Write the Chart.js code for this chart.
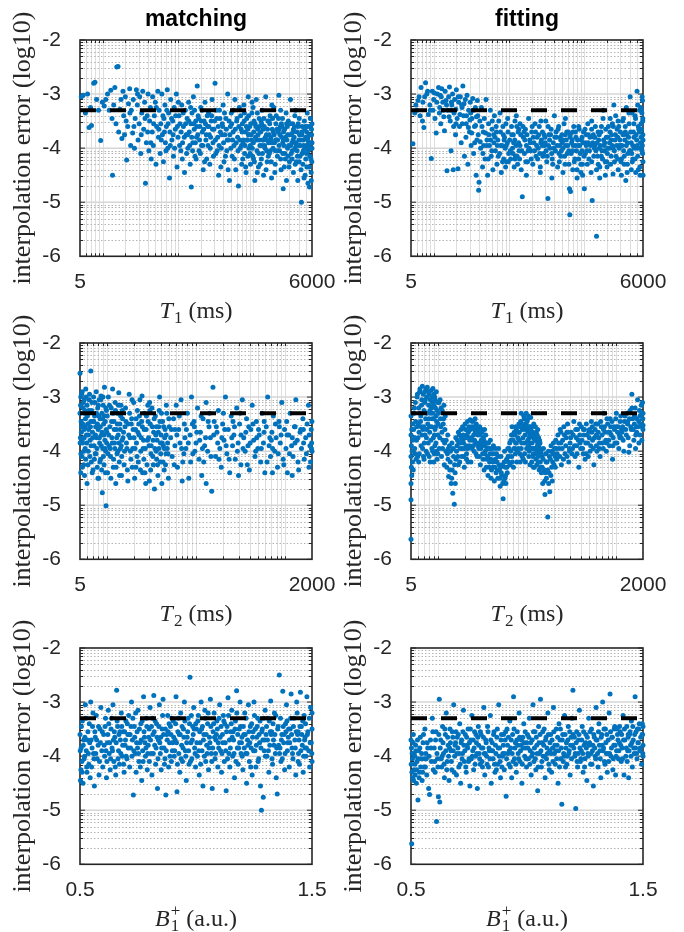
<!DOCTYPE html>
<html>
<head>
<meta charset="utf-8">
<script src="https://cdn.jsdelivr.net/npm/chart.js@4.4.0/dist/chart.umd.min.js"></script>
<style>
html, body { margin: 0; padding: 0; background: #fff; overflow: hidden; }
#wrap { position: relative; width: 684px; height: 932px; }
#wrap canvas { position: absolute; }
</style>
</head>
<body>
<div id="wrap">
  <canvas id="c1" width="342" height="330" style="left:0;top:0"></canvas>
  <canvas id="c2" width="342" height="330" style="left:331px;top:0"></canvas>
  <canvas id="c3" width="342" height="330" style="left:0;top:303px"></canvas>
  <canvas id="c4" width="342" height="330" style="left:331px;top:303px"></canvas>
  <canvas id="c5" width="342" height="330" style="left:0;top:608px"></canvas>
  <canvas id="c6" width="342" height="330" style="left:331px;top:608px"></canvas>
</div>
<script>
//----------------------------- DATOS -----------------------------
// error de interpolacion (log10) contra T1, T2 y B1+ : pares [x, y]
const errThreshold = -3.3;

const yTicks = [-6, -5, -4, -3, -2];
const yTickLabels = ['-6', '-5', '-4', '-3', '-2'];
const t1Ticks = [5, 6000];
const t1TickLabels = ['5', '6000'];
const t2Ticks = [5, 2000];
const t2TickLabels = ['5', '2000'];
const b1Ticks = [0.5, 1.5];
const b1TickLabels = ['0.5', '1.5'];
const columnTitles = ['matching', 'fitting'];

const t1Matching = [
[5.2,-3.05],[5.5,-3.02],[5.9,-3.35],[6.3,-3.0],[6.6,-3.62],[7.1,-3.58],[7.6,-2.8],[7.9,-2.78],[8.3,-3.1],[8.8,-3.3],[9.4,-3.86],[9.9,-3.15],[10.5,-3.22],[11,-3.1],[11.6,-3.0],[12.2,-3.3],[12.8,-2.93],[6.9,-3.25],
[13.3,-3.45],[13.5,-4.5],[14,-3.2],[14.5,-2.88],[15,-3.55],[15.4,-2.5],[16,-2.49],[16.3,-3.7],[17,-3.28],[17.5,-3.1],[18,-3.82],[18.6,-2.95],[19,-3.4],[19.5,-3.75],[20,-3.05],[20.8,-4.22],[21.5,-3.6],[22,-3.18],[22.8,-2.9],[23.5,-3.95],[24,-3.3],[25,-3.72],[25.5,-3.1],[26.4,-4.0],[27,-3.45],[28,-2.92],[28.8,-3.2],[29.5,-3.85],[30.5,-3.55],[31,-3.05],[32,-4.1],[33,-3.35],[34,-2.95],[35,-3.65],[36,-3.15],[37,-4.65],[38,-3.9],[39,-3.4],[40,-3.0],[41,-4.05],
[42,-3.5],[43,-3.25],[44,-4.2],[45.5,-3.7],[46,-3.05],[47,-3.95],[48.5,-3.4],[50,-3.15],[51,-4.3],[52,-3.6],[54,-2.95],[55,-3.8],[56,-3.3],[58,-4.1],[59,-3.55],[61,-3.0],[62,-3.75],[64,-4.25],[65,-3.45],[67,-3.2],[68,-3.9],[70,-3.6],[72,-2.92],[73,-4.0],[75,-3.35],[77,-4.55],[78,-3.7],[80,-3.1],[83,-3.85],[85,-3.5],[87,-4.15],[89,-3.25],[92,-3.65],[95,-3.0],[97,-4.35],[100,-3.8],[103,-3.4],[106,-3.55],[109,-4.05],[112,-3.2],[115,-3.9],[118,-3.6],[122,-4.45],[125,-3.3],[128,-3.75],
[132,-3.45],[135,-4.0],[138,-3.15],[141,-3.7],[145,-4.3],[148,-3.55],[150,-4.72],[153,-3.35],[157,-3.9],[160,-3.05],[164,-3.65],[168,-4.15],[172,-3.5],[176,-3.8],[180,-2.85],[185,-3.4],[190,-4.05],[195,-3.6],[200,-3.25],[205,-3.95],[210,-3.7],[216,-4.4],[222,-3.5],[228,-3.15],[234,-3.85],[240,-4.2],[247,-3.6],[254,-3.35],[260,-3.75],[268,-4.0],[275,-3.5],[283,-3.1],[291,-3.9],[300,-3.65],[310,-2.8],[318,-4.1],[327,-3.45],[336,-3.8],[346,-4.5],[355,-3.3],[365,-3.7],[375,-4.0],[386,-3.55],[397,-3.2],[408,-4.25],[420,-3.75],[432,-3.45],[444,-4.05],[456,-3.0],[469,-3.85],[482,-4.6],[495,-3.6],[509,-3.35],[523,-4.15],[538,-3.7],[553,-3.95],[568,-3.1],[584,-4.4],[600,-3.5],[617,-3.8],[634,-4.7],[651,-3.25],[669,-4.0],[688,-3.65],[700,-4.3],
[715,-3.55],[730,-3.9],[748,-3.2],[765,-4.1],[782,-3.7],[800,-4.45],[818,-3.45],[836,-3.85],[855,-3.05],[875,-4.0],[895,-3.6],[915,-4.3],[935,-3.75],[956,-3.35],[978,-4.15],[1000,-3.9],[1020,-3.5],[1045,-4.6],[1068,-3.8],[1092,-3.1],[1116,-4.05],[1141,-3.65],[1167,-4.35],[1193,-3.45],[1220,-3.95],[1248,-3.7],[1276,-4.2],[1305,-3.3],[1334,-3.85],[1364,-4.5],[1395,-3.6],[1426,-4.0],[1458,-3.05],[1491,-3.75],[1525,-4.25],[1559,-3.5],[1594,-3.9],[1630,-4.1],[1667,-3.4],[1704,-3.8],[1743,-4.55],[1782,-3.65],[1822,-4.0],[1863,-3.25],[1905,-3.9],[1948,-4.3],[1992,-3.55],[2037,-3.85],[2083,-4.15],[2130,-3.7],[2178,-3.02],[2227,-4.05],[2277,-3.6],[2328,-4.4],[2381,-3.8],[2434,-3.45],[2489,-4.75],[2545,-3.95],[2603,-3.65],[2661,-4.2],[2721,-3.35],[2783,-3.85],[2845,-4.0],[2909,-3.5],[2975,-4.35],[3042,-3.75],[3110,-3.1],[3180,-4.1],[3252,-3.9],[3325,-3.55],[3400,-4.45],[3477,-3.8],[3555,-4.0],[3635,-3.3],[3717,-4.25],[3800,-3.7],[3886,-4.6],[3974,-3.95],[4063,-3.45],[4155,-4.15],[4248,-3.85],[4344,-5.0],[4442,-3.6],[4542,-4.3],[4644,-3.95],[4749,-3.5],[4856,-4.5],[4965,-3.8],[5077,-4.1],[5191,-3.35],[5308,-4.65],[5428,-3.9],[5550,-4.72],[5675,-3.6],[5803,-4.2],[5930,-3.75],[5990,-4.0],
[760,-3.35],[842,-3.65],[910,-3.95],[990,-3.25],[1080,-3.6],[1180,-4.1],[1290,-3.55],[1410,-3.95],[1540,-3.65],[1680,-4.05],[1840,-3.7],[2010,-3.4],[2200,-3.95],[2400,-3.6],[2620,-4.1],[2860,-3.75],[3120,-3.95],[3400,-3.65],[3700,-3.95],[4040,-4.25],[4400,-3.75],[4800,-4.0],[5240,-3.85],[5700,-3.45],[1130,-3.35],[1620,-3.5],[2300,-3.3],[3260,-4.2],[4600,-4.05],[5500,-4.35],[960,-3.15],[1360,-3.85],[1960,-4.05],[2760,-3.55],[3900,-3.6],[5100,-3.7],[5850,-4.45],[6000,-3.9],[1760,-3.2],[2500,-3.85],[3550,-3.4],[4950,-4.2],
[20.5,-3.5],[23,-3.35],[26,-3.6],[29,-3.0],[32.5,-3.75],[36.5,-3.45],[39.5,-3.7],[43.5,-3.9],[47.5,-3.55],[51.5,-3.25],[55.5,-3.65],[60,-3.85],[63,-3.4],[66,-3.7],[69,-4.05],[71,-3.3],[74,-3.55],[79,-3.95],[82,-3.45],[86,-3.75],[90,-4.0],[93,-3.4],[98,-3.6],[101,-3.15],[105,-3.95],[110,-3.7],[114,-4.2],[117,-3.35],[121,-3.8],[126,-3.55],[130,-4.1],[134,-3.75],[139,-3.5],[143,-3.95],[147,-3.25],[152,-3.8],[156,-4.05],[162,-3.55],[166,-3.3],[170,-3.9],[174,-4.2],[178,-3.6],[183,-3.75],[188,-3.45],[193,-3.85],[198,-4.1],[203,-3.5],[208,-3.3],[213,-3.95],[219,-3.65],[225,-4.25],[231,-3.55],[237,-3.75],[244,-3.4],[250,-3.95],[257,-3.6],[264,-4.3],[271,-3.8],[279,-3.4],[287,-3.65],[295,-4.15],[305,-3.5],[314,-3.85],[322,-3.3],[331,-4.05],[341,-3.6],[350,-3.95],[360,-3.45],[370,-4.35],[380,-3.75],[391,-3.6],[402,-3.9],[414,-3.35],[426,-4.15],[438,-3.65],[450,-3.85],[462,-4.4],[475,-3.5],[488,-3.75],[502,-4.0],[516,-3.55],[530,-3.85],[545,-3.3],[560,-4.2],[576,-3.65],[592,-3.9],[608,-3.45],[625,-4.05],[642,-3.6],[660,-3.85],[678,-3.4],[695,-3.95],[708,-3.7],[722,-4.2],[740,-3.85],[756,-3.5],[774,-3.95],[791,-4.35],[808,-3.6],[827,-3.85],[846,-4.15],[864,-3.4],[885,-3.75],[905,-4.1],[925,-3.55],[946,-3.85],[967,-4.0],[1010,-3.7],[1032,-4.25],[1056,-3.55],[1104,-3.85],[1128,-4.45],[1154,-3.75],[1206,-3.6],[1234,-4.3],[1262,-3.5],[1320,-4.1],[1349,-3.65],[1380,-3.45],[1442,-3.8],[1474,-4.4],[1508,-3.85],[1576,-4.15],[1612,-3.75],[1648,-3.55],[1722,-4.25],[1762,-3.9],[1802,-3.45],[1884,-3.75],[1926,-4.45],[1970,-3.85],[2060,-3.65],[2106,-4.05],[2154,-3.45],[2252,-3.75],[2302,-4.2],[2354,-3.55],[2460,-4.1],[2516,-3.7],[2574,-4.35],[2690,-3.8],[2750,-4.6],[2814,-3.6],[2940,-3.95],[3008,-4.25],[3076,-3.55],[3216,-3.75],[3288,-4.05],[3362,-3.85],[3514,-3.6],[3594,-4.3],[3676,-3.9],[3842,-4.15],[3930,-3.55],[4018,-3.85],[4200,-3.95],[4296,-4.4],[4392,-3.7],[4592,-3.85],[4696,-4.55],[4802,-3.65],[5020,-3.95],[5134,-4.35],[5250,-3.6],[5368,-4.05],[5490,-3.75],[5612,-4.15],[5740,-3.9],[5866,-4.6],[5960,-4.25],[5995,-3.55],[1005,-4.2],[1500,-4.05],[2100,-3.85],[2900,-4.15],[3800,-4.05],[4900,-3.6],[5400,-3.95],[5900,-3.65],[1300,-3.95],[1700,-3.85],[2450,-3.9],[3350,-3.7],[4450,-4.1],[5600,-4.0],[860,-3.75],[1200,-3.85],[2200,-3.65],[3000,-3.55],[4100,-3.75],[5300,-3.8]
];

const t1Fitting = [
[5.3,-3.92],[5.6,-3.35],[6.0,-3.3],[6.4,-3.05],[6.8,-2.88],[7.1,-3.5],[7.4,-3.62],[7.8,-2.79],[8.1,-3.0],[8.5,-3.38],[8.9,-3.2],[9.3,-4.19],[9.6,-2.95],[10,-3.1],[10.4,-3.45],[10.8,-3.72],[11.2,-3.0],[11.6,-2.88],[12,-3.25],[12.4,-3.55],[12.8,-2.9],[13.2,-3.15],[13.6,-3.42],[7.6,-3.05],[9.0,-3.3],[11.9,-3.35],[10.2,-2.98],[6.2,-3.12],[13.9,-3.68],[12.6,-3.05],
[14.2,-2.95],[14.6,-3.12],[15,-4.42],[15.3,-3.3],[15.8,-3.05],[16.2,-2.87],[16.6,-3.5],[17,-4.05],[17.4,-3.2],[17.8,-3.0],[18.2,-4.4],[18.6,-3.35],[19,-3.1],[19.5,-3.75],[20,-2.92],[20.5,-3.45],[21,-4.38],[21.5,-3.15],[22,-3.6],[22.6,-3.05],[23.2,-3.9],[23.8,-3.25],[24.4,-2.85],[25,-3.4],[25.6,-4.15],[26.3,-3.1],[27,-3.55],[27.7,-3.02],[28.4,-4.3],[29.1,-3.3],[29.9,-3.7],[30.6,-3.15],[31.4,-3.95],[32.2,-3.45],[33,-3.08],[33.9,-4.1],[34.8,-3.6],[35.7,-3.25],[36.6,-4.5],[37.5,-3.85],[38.5,-3.4],[39.5,-4.78],[16.9,-3.3],[19.8,-3.55],[23.5,-3.2],[26.8,-3.8],[31,-3.35],[35,-3.9],[38,-3.12],[40,-4.63],
[41,-3.5],[42,-4.0],[43,-3.25],[44.5,-4.35],[45.5,-3.7],[47,-3.45],[48,-4.2],[49.5,-3.1],[51,-3.85],[52,-4.5],[53.5,-3.55],[55,-3.95],[56.5,-3.3],[58,-4.15],[59.5,-3.65],[61,-4.4],[62.5,-3.75],[64,-3.4],[66,-4.05],[67.5,-3.6],[69,-4.3],[71,-3.85],[73,-3.5],[75,-4.1],[77,-3.7],[79,-4.45],[81,-3.95],[83,-3.6],[85,-4.2],[87,-3.8],[89,-4.0],[91,-3.55],[93,-4.25],[95,-3.9],[97,-3.7],[99,-4.1],[54,-3.75],[60,-3.5],[70,-3.95],[76,-3.35],[84,-3.75],[90,-4.35],[96,-3.45],[46,-3.95],[65,-3.8],
[102,-3.85],[105,-4.2],[108,-3.6],[111,-4.0],[114,-3.75],[117,-4.35],[120,-3.5],[124,-3.95],[128,-4.15],[132,-3.7],[136,-4.05],[140,-3.55],[145,-4.4],[150,-4.9],[155,-3.8],[160,-4.1],[165,-3.65],[170,-3.95],[176,-4.25],[182,-3.45],[188,-3.85],[194,-4.05],[200,-3.7],[207,-4.3],[214,-3.9],[221,-3.55],[228,-4.15],[236,-3.8],[244,-4.0],[252,-3.6],[260,-4.45],[269,-3.85],[278,-3.7],[287,-4.1],[297,-3.95],[307,-3.5],[317,-4.25],[328,-4.93],[339,-3.75],[350,-4.0],[362,-3.65],[374,-4.2],[387,-3.9],[400,-3.4],[413,-4.05],[427,-3.8],[441,-4.35],[456,-3.6],[471,-3.95],[487,-4.15],[503,-3.75],[520,-4.0],[537,-3.55],[555,-4.3],[574,-3.85],[593,-4.1],[613,-3.7],[634,-4.75],[640,-5.23],[655,-4.8],[677,-3.9],[700,-4.05],[723,-3.6],[748,-4.2],[773,-3.8],[799,-4.4],[826,-3.95],[853,-3.65],[882,-4.1],[912,-3.85],[943,-4.3],[974,-3.7],[1000,-4.75],[1040,-3.9],[1075,-4.05],[1111,-3.55],[1149,-4.2],[1187,-3.8],[1227,-4.45],[1270,-4.97],[1312,-3.75],[1356,-4.0],[1400,-3.6],[1450,-5.63],[1500,-4.15],[1550,-3.85],[1602,-4.35],[1656,-3.7],[1712,-4.05],[1770,-3.45],[1829,-3.95],[1891,-4.25],[1955,-3.8],[2020,-4.1],[2088,-3.6],[2159,-3.9],[2231,-4.3],[2306,-3.75],[2384,-4.0],[2464,-3.2],[2547,-3.85],[2633,-4.15],[2722,-3.65],[2813,-4.4],[2908,-3.95],[3006,-3.7],[3107,-4.2],[3212,-3.5],[3320,-4.05],[3432,-3.85],[3547,-4.6],[3667,-3.75],[3790,-4.1],[3918,-3.55],[4050,-3.05],[4186,-3.9],[4327,-4.25],[4473,-3.7],[4623,-4.0],[4779,-3.45],[4940,-3.85],[5000,-2.95],[5106,-4.15],[5278,-3.65],[5456,-4.35],[5639,-3.8],[5829,-4.05],[5950,-3.5],[6000,-4.5],[5900,-3.12],
[115,-3.9],[130,-4.3],[158,-3.7],[185,-4.0],[210,-3.8],[240,-4.2],[275,-3.95],[310,-4.05],[345,-3.85],[380,-4.3],[420,-3.7],[460,-4.1],[510,-3.9],[560,-3.75],[620,-4.05],[690,-3.85],[760,-3.95],[840,-4.2],[930,-3.8],[1030,-4.1],[1130,-3.9],[1250,-4.25],[1380,-3.95],[1520,-3.7],[1680,-4.15],[1860,-3.9],[2050,-4.0],[2270,-3.85],[2510,-4.25],[2770,-3.8],[3060,-3.95],[3380,-4.3],[3730,-3.9],[4120,-4.05],[4550,-3.8],[5030,-4.0],[5560,-3.9],[135,-3.65],[225,-3.7],[330,-3.6],[485,-3.85],[705,-3.7],[1060,-3.75],[1580,-4.0],[2350,-3.55],[3500,-3.7],[5200,-3.6],[1780,-3.3],[2600,-3.4],[3900,-3.35],[5700,-3.3],[170,-4.5],[370,-4.55],[900,-4.45],[1900,-4.5],[4200,-4.4],[800,-4.55],[2400,-4.48],[125,-3.4],[265,-3.5],[560,-3.45],
[5.8,-3.2],[6.6,-3.4],[7.2,-3.15],[8.3,-2.95],[9.8,-3.3],[11,-3.15],[12.2,-3.02],[13.4,-3.3],[14.8,-3.2],[16,-3.42],[17.2,-3.15],[18.4,-3.6],[19.7,-3.28],[21.2,-3.05],[22.3,-3.38],[24,-3.55],[25.3,-3.18],[27.3,-3.4],[28.9,-3.62],[30.2,-3.48],[32,-3.72],[34,-3.3],[36,-3.58],[37,-3.42],[39,-3.75],[41.5,-3.88],[43.8,-3.6],[45,-4.1],[48.8,-3.72],[50.5,-3.95],[53,-4.2],[57,-3.85],[59,-4.05],[63,-3.9],[68,-3.7],[72,-4.15],[78,-3.95],[82,-4.25],[86,-3.85],[92,-3.95],[98,-4.25],
[104,-4.05],[109,-3.75],[113,-4.1],[119,-3.85],[122,-4.15],[127,-3.6],[134,-3.9],[138,-4.2],[143,-3.75],[148,-4.05],[153,-3.6],[162,-3.85],[167,-4.25],[173,-3.75],[179,-4.05],[191,-3.9],[197,-4.2],[203,-3.6],[218,-4.05],[232,-3.95],[248,-3.75],[256,-4.1],[264,-3.9],[282,-4.15],[292,-3.75],[302,-3.9],[322,-4.15],[334,-3.95],[356,-3.75],[368,-4.1],[392,-4.0],[406,-3.8],[434,-3.95],[448,-3.65],[465,-4.25],[479,-3.8],[495,-4.05],[528,-3.85],[546,-4.15],[565,-3.95],[584,-3.7],[603,-3.95],[624,-4.3],[645,-3.8],[666,-4.1],[712,-3.95],[735,-4.25],[761,-3.7],[786,-4.05],[812,-3.85],[839,-3.6],[868,-3.95],[897,-4.3],[927,-4.05],[958,-3.9],[990,-4.15],[1020,-3.65],[1058,-3.95],[1093,-4.3],[1130,-3.75],[1168,-4.05],[1207,-3.95],[1248,-3.65],[1291,-3.9],[1334,-4.15],[1378,-3.8],[1425,-4.05],[1475,-3.9],[1525,-4.3],[1576,-3.75],[1629,-3.95],[1684,-3.6],[1741,-4.2],[1800,-3.85],[1860,-4.05],[1922,-3.65],[1987,-4.25],[2054,-3.8],[2124,-4.0],[2195,-3.7],[2268,-4.15],[2345,-3.95],[2424,-3.6],[2505,-4.05],[2590,-3.75],[2677,-3.95],[2767,-4.2],[2860,-3.6],[2957,-3.85],[3056,-4.25],[3159,-3.95],[3266,-3.75],[3376,-4.15],[3489,-3.6],[3607,-3.95],[3728,-4.3],[3854,-3.8],[3984,-4.05],[4118,-3.7],[4256,-4.1],[4400,-3.95],[4548,-3.55],[4700,-4.2],[4860,-3.75],[5024,-3.95],[5192,-4.4],[5367,-3.7],[5548,-4.0],[5734,-3.65],[5880,-3.95],[5975,-3.75],[5990,-4.25],[6000,-3.85],[5960,-3.45],[5800,-3.35],[5600,-3.25],[5400,-3.3],[4700,-3.4],[4300,-3.35],[3300,-3.45],[2800,-3.5],[2200,-3.45],[1250,-3.5],[5100,-3.2],[5850,-3.05],[3600,-3.25],[4800,-4.45],[3100,-4.5],[2000,-4.35],[1450,-4.4],[950,-4.5],[520,-4.45],[260,-4.35],[120,-4.2],[700,-4.4],[1600,-4.55],[3700,-4.45],[5500,-4.5],[140,-3.95],[300,-3.8],[650,-3.75],[1350,-3.8],[2900,-4.0],[4400,-4.2],[5650,-3.55],[5920,-4.1]
];

const t2Matching = [
[5.0,-2.56],[5.0,-3.3],[5.05,-3.75],[5.1,-4.4],[5.1,-3.0],[5.2,-3.55],[5.25,-4.1],[5.3,-2.9],[5.35,-3.85],[5.4,-3.2],[5.5,-4.25],[5.55,-3.6],[5.6,-3.05],[5.7,-3.95],[5.75,-3.4],[5.8,-2.85],[5.9,-3.7],[6.0,-4.6],[6.0,-3.15],[6.1,-3.5],[6.2,-4.0],[6.3,-3.25],[6.4,-2.95],[6.5,-3.8],[6.6,-2.52],[6.6,-3.45],[6.7,-4.2],[6.8,-3.1],[6.9,-3.65],[7.0,-4.35],[7.1,-3.0],[7.2,-3.9],[7.3,-3.35],[7.4,-4.05],[7.5,-3.55],[7.6,-2.9],[7.7,-3.75],[7.8,-4.3],[7.9,-3.2],[8.0,-3.6],[8.1,-4.5],[8.2,-3.05],[8.3,-3.85],[8.4,-3.4],[8.5,-4.15],[8.6,-2.98],[8.7,-3.7],[8.8,-3.3],[8.9,-4.77],[9.0,-3.95],[9.1,-3.15],[9.2,-3.5],[9.3,-4.25],[9.4,-2.82],[9.5,-3.8],[9.6,-3.45],[9.7,-4.0],[9.8,-5.01],[9.9,-3.25],[10,-3.65],[10.2,-4.4],[10.4,-3.0],[10.6,-3.9],[10.8,-3.55],[11,-4.1],[11.2,-3.2],[11.4,-3.75],[11.6,-2.85],[11.8,-4.3],[12,-3.45],[12.2,-3.85],[12.4,-3.1],[12.6,-4.6],[12.8,-3.6],[13,-4.05],[13.2,-3.3],[13.4,-3.7],[13.6,-2.92],[13.8,-4.2],[14,-3.5],[14.2,-3.95],[14.4,-3.15],[14.6,-4.45],[14.8,-3.8],[15,-3.4],[5.15,-3.45],[5.65,-3.3],[6.25,-3.6],[7.15,-3.45],[8.15,-3.35],
[15.4,-3.65],[15.8,-4.0],[16.2,-3.2],[16.6,-3.85],[17,-4.35],[17.4,-3.5],[17.8,-2.95],[18.2,-3.75],[18.6,-4.15],[19,-3.4],[19.5,-3.95],[20,-3.1],[20.5,-4.5],[21,-3.6],[21.5,-3.85],[22,-3.25],[22.5,-4.2],[23,-3.7],[23.5,-3.05],[24,-4.0],[24.6,-3.45],[25.2,-4.4],[25.8,-3.8],[26.4,-3.3],[27,-3.95],[27.6,-3.6],[28.2,-4.25],[28.8,-3.15],[29.4,-3.75],[30,-4.55],[30.7,-3.5],[31.4,-3.9],[32.1,-3.2],[32.8,-4.1],[33.5,-3.65],[34.2,-4.7],[35,-3.35],[35.8,-4.0],[36.6,-3.8],[37.4,-4.45],[38.2,-3.55],[39,-3.0],[39.8,-4.2],[40.6,-3.7],[41.4,-4.6],[42.2,-3.45],[43,-3.9],[44,-4.35],[45,-3.6],[46,-4.05],[47,-3.3],[48,-3.85],[49,-4.5],[50,-3.55],[16,-3.55],[18,-3.3],[20.2,-3.75],[22.8,-3.5],[26,-4.15],[29,-3.45],[33,-3.8],[36,-3.55],[40,-3.85],[44.5,-3.75],[48.5,-4.05],[17.2,-4.55],[21.2,-4.3],[27.3,-4.6],[31,-4.35],[37,-4.25],[19.2,-3.05],[24.8,-2.98],[30.2,-3.1],[38.6,-3.25],[46.5,-3.15],
[52,-3.75],[54,-4.1],[56,-3.4],[58,-3.9],[60,-3.15],[62,-4.3],[64,-3.6],[66,-3.85],[68,-3.05],[71,-4.2],[74,-3.5],[77,-3.95],[80,-3.3],[83,-4.5],[86,-3.7],[89,-3.0],[92,-4.05],[96,-3.55],[100,-3.85],[104,-3.2],[108,-4.15],[112,-3.65],[116,-4.45],[120,-3.4],[125,-3.9],[130,-3.1],[135,-4.0],[140,-3.55],[145,-3.75],[150,-4.74],[155,-2.82],[160,-3.45],[166,-4.1],[172,-3.65],[178,-3.25],[185,-3.95],[192,-4.3],[199,-3.5],[206,-3.8],[214,-3.0],[222,-4.05],[230,-3.6],[239,-4.4],[248,-3.35],[257,-3.9],[266,-3.7],[276,-4.15],[286,-3.2],[297,-3.85],[308,-3.5],[319,-4.25],[331,-3.05],[343,-3.75],[356,-4.0],[369,-3.4],[383,-3.9],[397,-4.35],[412,-3.6],[427,-3.15],[443,-3.8],[459,-4.1],[476,-3.45],[494,-3.95],[512,-3.7],[531,-4.2],[551,-3.3],[571,-3.85],[592,-4.4],[614,-3.55],[637,-3.0],[660,-3.9],[685,-4.1],[710,-3.65],[736,-3.35],[764,-4.0],[792,-3.75],[821,-4.3],[852,-3.45],[883,-3.85],[916,-3.1],[950,-4.15],[985,-3.6],[1021,-3.95],[1059,-4.4],[1098,-3.7],[1139,-3.3],[1181,-3.9],[1225,-4.1],[1270,-3.55],[1317,-3.05],[1366,-3.8],[1416,-4.35],[1469,-3.65],[1523,-3.95],[1580,-3.4],[1638,-4.15],[1699,-3.75],[1762,-3.5],[1827,-3.15],[1895,-3.9],[1960,-3.6],[2000,-4.0],[1980,-3.85],
[58,-3.6],[75,-3.75],[95,-3.45],[118,-3.95],[142,-3.3],[175,-3.85],[210,-3.6],[260,-3.45],[320,-3.7],[390,-3.55],[480,-3.75],[580,-3.65],[700,-3.8],[860,-3.55],[1050,-3.7],[1290,-3.85],[1600,-3.6],[70,-4.55],[130,-4.6],[300,-4.45],[720,-4.4],[1200,-4.45],[1850,-4.3],
[5.02,-3.85],[5.08,-3.15],[5.12,-4.05],[5.18,-3.65],[5.22,-2.95],[5.28,-3.8],[5.32,-4.3],[5.38,-3.5],[5.45,-3.1],[5.52,-4.0],[5.58,-3.75],[5.62,-4.45],[5.68,-3.25],[5.72,-3.55],[5.78,-4.15],[5.85,-3.0],[5.95,-3.85],[6.05,-3.35],[6.15,-4.25],[6.22,-3.7],[6.35,-3.05],[6.45,-4.1],[6.55,-3.55],[6.65,-3.9],[6.75,-3.25],[6.85,-4.4],[6.95,-3.75],[7.05,-3.45],[7.25,-4.15],[7.35,-3.1],[7.45,-3.7],[7.55,-4.05],[7.65,-3.3],[7.75,-3.95],[7.85,-3.5],[7.95,-4.5],[8.05,-3.15],[8.25,-3.75],[8.35,-4.2],[8.45,-3.55],[8.55,-3.05],[8.65,-3.9],[8.75,-4.35],[8.85,-3.65],[8.95,-3.4],[9.05,-3.0],[9.15,-4.1],[9.25,-3.7],[9.35,-3.35],[9.55,-3.95],[9.65,-4.4],[9.75,-3.2],[9.85,-3.6],[9.95,-3.85],[10.1,-3.35],[10.3,-4.05],[10.5,-3.7],[10.7,-3.15],[10.9,-3.95],[11.1,-4.5],[11.3,-3.45],[11.5,-3.85],[11.7,-3.3],[11.9,-4.15],[12.1,-3.6],[12.3,-3.95],[12.5,-3.25],[12.7,-4.3],[12.9,-3.75],[13.1,-3.5],[13.3,-4.0],[13.5,-3.15],[13.7,-3.85],[13.9,-4.45],[14.1,-3.6],[14.3,-3.35],[14.5,-3.9],[14.7,-4.1],[14.9,-3.25],[15.2,-3.75],[15.6,-4.25],[16.4,-3.45],[16.8,-3.95],[17.6,-3.7],[18.4,-4.0],[18.8,-3.5],[19.3,-4.3],[19.7,-3.6],[20.7,-3.95],[21.3,-3.4],[21.8,-4.1],[22.3,-3.65],[23.2,-3.35],[23.8,-4.35],[24.3,-3.75],[25,-3.55],[25.5,-3.95],[26.2,-3.6],[26.7,-4.4],[27.8,-3.35],[28.5,-3.8],[29.7,-3.9],[30.4,-3.25],[31.2,-4.05],[32.4,-3.55],[33.2,-4.25],[34,-3.4],[34.6,-3.95],[35.4,-3.7],[36.2,-4.15],[37.8,-3.65],[38.4,-3.95],[39.4,-3.45],[40.2,-4.05],[41,-3.3],[41.8,-3.85],[42.6,-4.2],[43.5,-3.55],[44.2,-3.95],[45.5,-4.25],[46.3,-3.7],[47.5,-3.95],[49.5,-3.4],
[53,-3.6],[57,-4.25],[61,-3.7],[65,-3.35],[69,-3.95],[73,-4.05],[78,-3.6],[82,-3.85],[87,-4.2],[91,-3.5],[97,-4.0],[102,-3.65],[110,-3.8],[114,-3.35],[122,-4.2],[128,-3.75],[137,-3.45],[147,-4.1],[158,-3.7],[169,-3.55],[181,-4.15],[195,-3.75],[203,-3.3],[218,-3.9],[235,-4.15],[252,-3.75],[270,-3.55],[291,-4.0],[313,-3.3],[337,-3.95],[362,-3.65],[376,-4.25],[405,-3.85],[435,-3.5],[467,-4.0],[503,-3.6],[540,-3.95],[582,-3.45],[625,-4.2],[672,-3.75],[723,-3.95],[778,-3.5],[836,-4.05],[899,-3.7],[967,-4.25],[1040,-3.45],[1118,-4.05],[1202,-3.75],[1293,-3.55],[1391,-4.2],[1495,-3.6],[1609,-3.85],[1730,-4.05],[1860,-3.7],[1930,-4.2],[1995,-3.45],[1970,-3.95]
];

const t2Fitting = [
[5.0,-3.35],[5.0,-3.7],[5.0,-4.1],[5.0,-4.6],[5.0,-4.9],[5.0,-5.63],[5.05,-3.9],[5.05,-4.3],[5.1,-3.6],[5.1,-4.45],[5.15,-4.0],[5.2,-3.8],[5.2,-4.2],[5.25,-3.5],[5.3,-4.35],
[5.4,-3.3],[5.5,-3.95],[5.6,-3.1],[5.7,-4.15],[5.8,-3.55],[5.9,-2.95],[6.0,-3.75],[6.1,-3.2],[6.2,-4.05],[6.3,-2.85],[6.4,-3.45],[6.5,-3.9],[6.6,-3.05],[6.7,-2.8],[6.8,-3.6],[6.9,-4.1],[7.0,-3.25],[7.1,-2.9],[7.2,-3.7],[7.3,-3.4],[7.4,-4.0],[7.5,-3.0],[7.6,-2.82],[7.7,-3.5],[7.8,-3.85],[7.9,-3.15],[8.0,-2.95],[8.1,-3.65],[8.2,-4.2],[8.3,-3.3],[8.4,-2.88],[8.5,-3.55],[8.6,-3.95],[8.7,-3.1],[8.8,-2.84],[8.9,-3.75],[9.0,-3.4],[9.1,-4.05],[9.2,-3.0],[9.3,-3.6],[9.4,-3.2],[9.5,-3.85],[9.6,-2.9],[9.7,-3.45],[9.8,-4.15],[9.9,-3.1],[10,-3.7],[10.2,-3.3],[10.4,-3.95],[10.6,-3.05],[10.8,-3.55],[11,-4.1],[11.2,-3.25],[11.4,-3.8],[11.6,-3.4],[11.8,-4.25],[12,-3.6],[6.05,-3.5],[6.45,-3.35],[6.95,-3.55],[7.45,-3.75],[7.95,-3.4],[8.45,-3.2],[8.95,-3.15],[9.45,-3.55],[5.75,-3.8],[6.75,-3.95],[7.25,-3.05],[8.25,-3.05],[9.25,-3.9],
[12.3,-4.0],[12.6,-4.3],[12.9,-3.7],[13.2,-4.47],[13.5,-3.9],[13.8,-4.2],[14.1,-4.6],[14.4,-3.85],[14.7,-4.78],[15,-4.1],[15.3,-4.98],[15.6,-4.4],[15.9,-3.75],[13,-4.15],[14.5,-4.35],
[16.2,-4.0],[16.6,-3.8],[17,-4.25],[17.4,-3.7],[17.8,-3.95],[18.2,-3.6],[18.6,-4.1],[19,-3.55],[19.4,-3.85],[19.8,-4.3],[20.2,-3.5],[20.6,-3.75],[21,-4.05],[21.5,-3.45],[22,-3.65],[22.5,-3.9],[23,-3.42],[23.5,-4.2],[24,-3.55],[24.5,-3.8],[25,-3.44],[25.5,-4.0],[26,-3.6],[26.5,-3.85],[27,-3.5],[27.6,-4.1],[28.2,-3.7],[28.8,-3.95],[29.4,-3.55],[30,-4.25],[30.6,-3.8],[31.2,-3.65],[31.8,-4.05],[32.4,-3.75],[33,-4.35],[33.7,-3.9],[34.4,-3.7],[35.1,-4.15],[35.8,-3.85],[36.5,-4.45],[37.2,-3.95],[38,-4.2],[38.8,-3.8],[39.6,-4.5],[40.4,-4.05],[41.2,-4.3],[42,-3.9],[43,-4.55],[44,-4.15],[45,-4.4],[18,-3.85],[20,-3.95],[22.2,-3.75],[24.2,-3.95],[26.2,-3.4],[28.5,-3.6],[31,-3.9],[33.4,-3.6],[36,-3.95],[38.4,-4.05],[21.8,-4.2],[27.3,-3.85],[34,-4.0],[29.7,-3.85],[25.2,-3.7],
[46,-4.2],[47,-4.5],[48,-3.95],[49,-4.35],[50,-4.65],[51,-4.1],[52,-4.45],[53,-4.25],[54,-4.88],[55,-4.55],[56,-4.0],[57,-4.3],[58,-4.6],[59,-4.15],[60,-4.4],[61,-3.95],[62,-4.2],[50.5,-4.3],[56.5,-4.5],[47.5,-4.1],
[63,-3.95],[64.5,-4.25],[66,-3.8],[67.5,-4.1],[69,-3.7],[70.5,-4.3],[72,-3.65],[73.5,-3.95],[75,-3.55],[77,-4.2],[79,-3.75],[81,-3.5],[83,-4.05],[85,-3.45],[87,-3.85],[89,-3.6],[91,-4.15],[93,-3.4],[95,-3.7],[97,-3.5],[99,-3.95],[101,-3.42],[103,-3.65],[105,-4.1],[107,-3.55],[109,-3.85],[111,-3.6],[113,-4.2],[115,-3.7],[117,-3.95],[119,-3.5],[121,-4.3],[123,-3.8],[125,-4.05],[127,-3.65],[129,-4.25],[131,-3.9],[133,-4.1],[135,-3.75],[137,-4.35],[139,-3.95],[141,-4.2],[143,-4.0],[145,-4.4],[76,-3.85],[82,-3.65],[88,-4.1],[94,-3.85],[100,-3.6],[106,-3.75],[112,-3.95],[118,-3.75],[124,-3.55],[130,-3.7],[86,-3.3],[98,-3.3],[110,-3.38],[68,-3.55],[74,-4.05],[80,-3.95],[104,-3.9],[116,-4.1],[126,-3.95],[132,-3.6],[138,-3.8],
[147,-4.1],[150,-4.6],[153,-3.95],[156,-4.35],[159,-4.8],[162,-4.05],[165,-4.5],[168,-4.2],[171,-5.22],[174,-4.0],[177,-4.4],[180,-4.75],[183,-4.15],[186,-3.9],[189,-4.3],[192,-4.55],[195,-4.05],[198,-3.85],[201,-4.25],[204,-3.95],[207,-4.1],[210,-3.8],[160,-4.4],[175,-4.6],[190,-4.0],
[215,-4.15],[222,-3.7],[229,-3.95],[236,-3.6],[243,-4.25],[251,-3.8],[259,-3.55],[267,-4.05],[276,-3.75],[285,-3.5],[294,-4.2],[304,-3.85],[314,-3.65],[324,-3.95],[335,-3.45],[346,-4.1],[357,-3.75],[369,-3.6],[381,-4.3],[394,-3.85],[407,-3.55],[420,-3.95],[434,-3.7],[448,-4.15],[463,-3.5],[478,-3.85],[494,-3.65],[510,-4.0],[527,-3.45],[544,-3.8],[562,-4.25],[580,-3.6],[599,-3.9],[619,-3.5],[639,-3.75],[660,-4.1],[682,-3.55],[704,-3.85],[727,-3.3],[751,-3.65],[776,-4.0],[801,-3.5],[827,-3.8],[854,-3.4],[882,-3.7],[911,-4.15],[941,-3.55],[972,-3.85],[1004,-3.3],[1037,-3.65],[1071,-3.95],[1106,-3.45],[1142,-3.75],[1180,-3.55],[1219,-4.0],[1259,-3.35],[1300,-3.7],[1343,-3.5],[1387,-4.02],[1432,-3.25],[1479,-3.6],[1500,-2.95],[1528,-3.4],[1578,-3.8],[1630,-3.2],[1683,-3.55],[1738,-3.05],[1795,-3.45],[1854,-3.7],[1915,-3.15],[1960,-3.55],[2000,-3.3],[2000,-3.52],[1990,-3.4],
[240,-3.85],[300,-4.0],[360,-3.9],[430,-3.6],[500,-3.75],[600,-3.7],[720,-3.6],[850,-3.65],[1000,-3.55],[1150,-3.6],[1350,-3.45],[1600,-3.5],[1850,-3.35],[280,-3.65],[390,-3.7],[540,-3.55],[780,-3.85],[1100,-3.75],[1700,-3.65],[460,-4.05],[650,-3.95],[920,-3.9],
[5.35,-3.6],[5.45,-3.2],[5.55,-4.05],[5.65,-3.45],[5.85,-3.0],[5.95,-4.1],[6.15,-3.65],[6.25,-2.9],[6.35,-3.3],[6.55,-3.15],[6.65,-3.7],[6.85,-2.95],[7.05,-3.85],[7.15,-3.1],[7.35,-2.85],[7.55,-3.3],[7.65,-4.05],[7.85,-2.9],[8.05,-3.55],[8.15,-3.25],[8.35,-3.8],[8.55,-3.0],[8.65,-3.4],[8.75,-4.0],[8.85,-3.3],[9.05,-2.95],[9.15,-3.7],[9.35,-3.05],[9.55,-3.35],[9.65,-4.0],[9.85,-3.25],[10.1,-3.5],[10.3,-3.1],[10.5,-3.75],[10.7,-3.4],[10.9,-3.2],[11.1,-3.65],[11.3,-3.95],[11.5,-3.5],[11.7,-3.15],[11.9,-3.85],[12.1,-3.35],[6.1,-4.2],[7.0,-4.15],[8.0,-4.1],[9.0,-4.2],[10,-4.05],[5.5,-3.75],[6.5,-3.55],[7.5,-3.6],
[12.4,-3.8],[12.8,-4.05],[13.1,-3.95],[13.6,-4.35],[13.9,-4.0],[14.3,-4.5],[14.9,-3.95],[15.4,-4.25],[15.7,-4.6],[16,-4.15],
[16.4,-3.9],[16.8,-4.1],[17.2,-3.85],[17.6,-4.2],[18.4,-3.75],[18.8,-3.95],[19.2,-3.7],[19.6,-4.1],[20.4,-3.6],[20.8,-3.9],[21.2,-3.7],[21.7,-3.95],[22.3,-3.55],[22.8,-3.8],[23.3,-3.6],[23.8,-3.75],[24.3,-3.45],[24.8,-3.9],[25.3,-3.55],[25.8,-3.8],[26.3,-3.65],[26.8,-4.05],[27.4,-3.55],[28,-3.9],[28.6,-3.65],[29.2,-4.1],[29.9,-3.7],[30.4,-3.95],[31,-3.6],[31.6,-3.85],[32.2,-4.15],[32.8,-3.8],[33.5,-4.05],[34.2,-3.85],[34.9,-4.3],[35.6,-3.95],[36.3,-4.1],[37,-3.85],[37.7,-4.3],[38.5,-3.95],[39.2,-4.15],[40,-4.35],[40.8,-3.95],[41.6,-4.2],[42.5,-4.05],[43.5,-4.3],[44.5,-3.95],[17,-3.65],[19,-3.8],[21,-4.15],
[45.5,-4.05],[46.5,-4.35],[48.5,-4.25],[49.5,-4.5],[51.5,-4.4],[53.5,-4.6],[55.5,-4.2],[57.5,-4.45],[59.5,-4.3],[61.5,-4.1],
[62.5,-4.1],[64,-3.85],[65.5,-4.0],[67,-3.7],[68.5,-4.2],[70,-3.8],[71.5,-3.95],[73,-3.7],[74.5,-3.85],[76,-3.6],[78,-4.0],[80,-3.65],[82,-3.8],[84,-3.55],[86,-3.95],[88,-3.5],[90,-3.75],[92,-3.55],[94,-4.05],[96,-3.6],[98,-3.85],[100,-3.45],[102,-3.8],[104,-3.55],[106,-4.0],[108,-3.7],[110,-3.95],[112,-3.55],[114,-3.85],[116,-3.65],[118,-4.05],[120,-3.7],[122,-3.95],[124,-3.8],[126,-4.15],[128,-3.75],[130,-4.0],[132,-3.85],[134,-4.2],[136,-3.9],[138,-4.05],[140,-3.85],[142,-4.3],[144,-4.05],[92,-3.35],[104,-3.35],[96,-4.2],[108,-4.25],[84,-4.2],[118,-4.3],
[148,-4.3],[152,-4.15],[158,-4.55],[164,-4.2],[170,-4.35],[178,-4.1],[185,-4.45],[194,-4.2],[202,-4.05],[208,-4.3],
[212,-3.95],[218,-4.05],[226,-3.85],[233,-4.1],[240,-3.65],[248,-3.95],[256,-4.15],[263,-3.7],[272,-3.9],[281,-4.1],[290,-3.65],[299,-3.95],[309,-3.75],[319,-4.05],[330,-3.7],[341,-3.9],[352,-3.6],[364,-4.05],[376,-3.8],[388,-3.5],[400,-3.95],[414,-3.8],[427,-4.05],[441,-3.6],[456,-3.85],[471,-3.7],[486,-4.1],[502,-3.6],[518,-3.9],[535,-3.65],[553,-3.95],[571,-3.75],[590,-3.5],[609,-4.0],[629,-3.65],[650,-3.85],[671,-3.45],[693,-3.7],[716,-3.95],[739,-3.55],[764,-3.8],[789,-3.4],[815,-3.65],[842,-3.9],[869,-3.55],[898,-3.45],[927,-3.75],[957,-3.6],[989,-3.4],[1021,-3.85],[1054,-3.55],[1089,-3.7],[1124,-3.35],[1161,-3.65],[1199,-3.8],[1238,-3.45],[1279,-3.6],[1321,-3.3],[1364,-3.75],[1409,-3.4],[1455,-3.55],[1503,-3.2],[1552,-3.6],[1603,-3.35],[1656,-3.7],[1710,-3.4],[1766,-3.55],[1824,-3.25],[1884,-3.5],[1945,-3.3],[1975,-3.1],[1995,-3.6],[1940,-3.8],[1800,-3.85],[1650,-3.95],[1420,-3.9]
];

const b1Matching = [
[0.500,-3.6],[0.502,-4.45],[0.505,-3.85],[0.508,-4.1],[0.51,-3.35],[0.513,-4.5],[0.516,-3.7],[0.52,-4.0],[0.523,-3.05],[0.527,-3.9],[0.53,-4.3],[0.534,-3.55],[0.538,-4.15],[0.542,-3.75],[0.546,-3.0],[0.55,-4.2],[0.554,-3.45],[0.558,-3.95],[0.562,-4.55],[0.566,-3.65],[0.57,-3.25],[0.574,-4.05],[0.578,-3.8],[0.582,-4.35],[0.586,-3.5],[0.59,-3.1],[0.594,-3.9],[0.598,-4.2],[0.504,-4.25],[0.532,-3.7],
[0.602,-3.6],[0.606,-4.0],[0.61,-3.3],[0.614,-4.4],[0.618,-3.75],[0.622,-3.15],[0.626,-3.95],[0.63,-4.25],[0.634,-3.5],[0.638,-3.85],[0.642,-3.05],[0.646,-4.1],[0.65,-3.65],[0.654,-4.35],[0.658,-2.78],[0.662,-3.45],[0.666,-3.9],[0.67,-4.15],[0.674,-3.7],[0.678,-3.2],[0.682,-4.0],[0.686,-3.55],[0.69,-4.3],[0.694,-3.8],[0.698,-3.35],[0.612,-3.9],[0.644,-3.7],[0.672,-3.55],
[0.702,-4.05],[0.706,-3.6],[0.71,-3.25],[0.714,-4.2],[0.718,-3.85],[0.722,-3.0],[0.726,-3.7],[0.73,-4.72],[0.734,-3.45],[0.738,-3.95],[0.742,-4.3],[0.746,-3.55],[0.75,-3.15],[0.754,-4.1],[0.758,-3.75],[0.762,-3.4],[0.766,-4.45],[0.77,-3.9],[0.774,-2.9],[0.778,-3.65],[0.782,-4.0],[0.786,-3.3],[0.79,-4.25],[0.794,-3.8],[0.798,-3.5],[0.716,-3.6],[0.748,-3.85],[0.78,-3.75],
[0.802,-3.1],[0.806,-3.95],[0.81,-4.35],[0.814,-3.6],[0.818,-2.88],[0.822,-3.8],[0.826,-4.15],[0.83,-3.4],[0.834,-4.6],[0.838,-3.7],[0.842,-3.05],[0.846,-3.95],[0.85,-4.25],[0.854,-3.5],[0.858,-2.95],[0.862,-3.85],[0.866,-4.05],[0.87,-4.72],[0.874,-3.6],[0.878,-3.25],[0.882,-4.2],[0.886,-3.75],[0.89,-3.45],[0.894,-4.1],[0.898,-3.9],[0.812,-3.3],[0.848,-3.65],[0.88,-3.55],
[0.902,-3.35],[0.906,-4.0],[0.91,-3.7],[0.914,-2.9],[0.918,-4.66],[0.922,-3.55],[0.926,-3.95],[0.93,-4.3],[0.934,-3.2],[0.938,-3.8],[0.942,-4.1],[0.946,-3.5],[0.95,-3.0],[0.954,-3.9],[0.958,-4.45],[0.962,-3.65],[0.966,-3.3],[0.97,-4.15],[0.974,-2.54],[0.978,-3.75],[0.982,-4.05],[0.986,-3.45],[0.99,-3.1],[0.994,-3.85],[0.998,-4.2],[0.928,-3.6],[0.96,-3.75],[0.988,-3.6],
[1.002,-3.5],[1.006,-4.0],[1.01,-3.25],[1.014,-4.35],[1.018,-3.75],[1.022,-3.0],[1.026,-3.9],[1.03,-4.55],[1.034,-3.6],[1.038,-3.15],[1.042,-4.1],[1.046,-3.8],[1.05,-3.4],[1.054,-4.25],[1.058,-3.65],[1.062,-2.95],[1.066,-3.95],[1.07,-4.6],[1.074,-3.55],[1.078,-3.2],[1.082,-4.05],[1.086,-3.7],[1.09,-3.35],[1.094,-4.2],[1.098,-3.85],[1.024,-3.5],[1.056,-3.85],[1.088,-3.6],
[1.102,-3.05],[1.106,-3.9],[1.11,-4.3],[1.114,-3.6],[1.118,-3.25],[1.122,-4.1],[1.126,-3.75],[1.13,-4.64],[1.134,-3.45],[1.138,-2.92],[1.142,-3.95],[1.146,-4.2],[1.15,-3.55],[1.154,-3.15],[1.158,-4.0],[1.162,-3.7],[1.166,-4.4],[1.17,-3.35],[1.175,-2.79],[1.178,-3.85],[1.182,-4.15],[1.186,-3.5],[1.19,-3.0],[1.194,-3.95],[1.198,-3.65],[1.124,-3.4],[1.16,-3.55],[1.188,-3.75],
[1.202,-4.25],[1.206,-3.6],[1.21,-3.2],[1.214,-3.95],[1.218,-4.5],[1.222,-3.7],[1.226,-3.05],[1.23,-4.1],[1.234,-3.45],[1.238,-3.85],[1.242,-4.35],[1.246,-3.55],[1.25,-3.0],[1.254,-3.9],[1.258,-4.2],[1.262,-3.65],[1.266,-3.3],[1.27,-4.05],[1.274,-3.75],[1.278,-4.55],[1.282,-5.0],[1.286,-3.5],[1.29,-4.76],[1.294,-3.9],[1.298,-3.15],[1.224,-3.8],[1.256,-3.5],[1.288,-3.7],
[1.302,-3.6],[1.306,-4.0],[1.31,-3.3],[1.314,-4.3],[1.318,-3.8],[1.322,-2.98],[1.326,-3.55],[1.33,-4.15],[1.334,-3.7],[1.338,-3.2],[1.342,-3.95],[1.346,-4.4],[1.35,-4.7],[1.354,-3.45],[1.359,-2.5],[1.362,-3.85],[1.366,-4.1],[1.37,-3.6],[1.374,-2.8],[1.378,-3.75],[1.382,-4.25],[1.386,-3.4],[1.39,-3.05],[1.394,-3.9],[1.398,-3.65],[1.324,-3.6],[1.356,-3.8],[1.388,-3.55],
[1.402,-4.2],[1.406,-3.5],[1.41,-2.85],[1.414,-3.85],[1.418,-4.05],[1.422,-3.3],[1.426,-3.7],[1.43,-4.35],[1.434,-3.0],[1.438,-3.6],[1.442,-3.95],[1.446,-4.15],[1.45,-2.82],[1.454,-3.45],[1.458,-3.8],[1.462,-4.3],[1.466,-3.25],[1.47,-3.65],[1.474,-4.0],[1.478,-2.9],[1.482,-3.55],[1.486,-3.9],[1.49,-4.2],[1.494,-3.1],[1.497,-3.75],[1.5,-3.5],[1.5,-4.1],[1.5,-3.2],[1.44,-3.55],[1.47,-3.85],
[0.501,-3.9],[0.506,-3.45],[0.509,-4.3],[0.514,-3.8],[0.518,-4.05],[0.521,-3.65],[0.525,-3.3],[0.529,-4.2],[0.536,-3.95],[0.54,-3.4],[0.544,-4.4],[0.548,-3.7],[0.552,-3.85],[0.556,-3.2],[0.56,-4.05],[0.564,-3.55],[0.568,-3.95],[0.572,-3.7],[0.58,-3.45],[0.584,-4.1],[0.588,-3.75],[0.596,-3.55],
[0.604,-3.8],[0.608,-3.45],[0.616,-4.1],[0.62,-3.6],[0.624,-3.4],[0.628,-3.75],[0.632,-4.05],[0.636,-3.3],[0.64,-3.9],[0.648,-3.55],[0.652,-4.2],[0.656,-3.75],[0.66,-3.35],[0.664,-4.05],[0.668,-3.6],[0.676,-3.95],[0.68,-3.45],[0.684,-3.8],[0.688,-4.15],[0.692,-3.55],[0.696,-3.7],[0.699,-4.0],
[0.704,-3.4],[0.708,-3.85],[0.712,-3.6],[0.72,-3.45],[0.724,-4.0],[0.728,-3.3],[0.732,-3.9],[0.736,-3.65],[0.74,-3.2],[0.744,-3.75],[0.752,-3.95],[0.756,-3.5],[0.76,-4.2],[0.764,-3.7],[0.768,-3.35],[0.772,-4.1],[0.776,-3.55],[0.784,-3.85],[0.788,-3.45],[0.792,-3.95],[0.796,-3.65],[0.799,-4.1],
[0.804,-3.7],[0.808,-3.45],[0.816,-3.95],[0.82,-3.55],[0.824,-3.35],[0.828,-3.85],[0.832,-3.65],[0.836,-4.05],[0.84,-3.45],[0.844,-3.75],[0.852,-3.85],[0.856,-3.25],[0.86,-3.6],[0.864,-4.15],[0.868,-3.5],[0.872,-3.9],[0.876,-3.7],[0.884,-3.4],[0.888,-4.0],[0.892,-3.6],[0.896,-3.3],[0.899,-3.75],
[0.904,-3.65],[0.908,-3.9],[0.912,-3.4],[0.916,-3.75],[0.92,-4.15],[0.924,-3.3],[0.932,-3.6],[0.936,-4.05],[0.94,-3.45],[0.944,-3.85],[0.948,-3.65],[0.952,-3.35],[0.956,-4.0],[0.964,-3.55],[0.968,-3.9],[0.972,-3.4],[0.976,-4.1],[0.98,-3.25],[0.984,-3.7],[0.992,-3.5],[0.996,-3.95],[0.999,-3.4],
[1.004,-3.75],[1.008,-3.35],[1.012,-3.9],[1.016,-3.55],[1.02,-4.15],[1.028,-3.45],[1.032,-3.7],[1.036,-4.0],[1.04,-3.3],[1.044,-3.6],[1.048,-3.95],[1.052,-3.2],[1.06,-3.75],[1.064,-3.45],[1.068,-4.1],[1.072,-3.85],[1.076,-3.4],[1.08,-3.65],[1.084,-3.95],[1.092,-3.5],[1.096,-3.75],[1.099,-3.3],
[1.104,-3.65],[1.108,-3.45],[1.112,-3.95],[1.116,-3.75],[1.12,-3.35],[1.128,-3.9],[1.132,-3.55],[1.136,-4.05],[1.14,-3.25],[1.144,-3.7],[1.148,-3.85],[1.152,-3.4],[1.156,-3.65],[1.164,-3.95],[1.168,-3.5],[1.172,-4.1],[1.176,-3.2],[1.18,-3.6],[1.184,-3.85],[1.192,-3.45],[1.196,-3.75],[1.199,-4.0],
[1.204,-3.45],[1.208,-3.85],[1.212,-3.6],[1.216,-3.3],[1.22,-3.95],[1.228,-3.55],[1.232,-3.75],[1.236,-4.2],[1.24,-3.4],[1.244,-3.65],[1.248,-3.9],[1.252,-3.25],[1.26,-3.8],[1.264,-3.45],[1.268,-4.1],[1.272,-3.6],[1.276,-3.35],[1.28,-3.85],[1.284,-3.55],[1.292,-3.3],[1.296,-3.7],[1.299,-4.0],
[1.304,-3.45],[1.308,-3.7],[1.312,-3.9],[1.316,-3.35],[1.32,-3.55],[1.328,-4.05],[1.332,-3.4],[1.336,-3.8],[1.34,-3.6],[1.344,-3.25],[1.348,-3.85],[1.352,-3.5],[1.36,-3.95],[1.364,-3.3],[1.368,-3.7],[1.372,-4.05],[1.376,-3.45],[1.38,-3.6],[1.384,-3.95],[1.392,-3.35],[1.396,-3.75],[1.399,-3.5],
[1.404,-3.75],[1.408,-3.3],[1.412,-3.6],[1.416,-3.95],[1.42,-3.45],[1.428,-3.85],[1.432,-3.55],[1.436,-3.2],[1.44,-4.1],[1.444,-3.7],[1.448,-3.45],[1.452,-3.9],[1.456,-3.6],[1.46,-3.35],[1.464,-4.0],[1.468,-3.7],[1.472,-3.4],[1.476,-3.85],[1.48,-3.6],[1.488,-3.3],[1.492,-3.75],[1.499,-3.95]
];

const b1Fitting = [
[0.500,-3.7],[0.501,-4.15],[0.503,-5.62],[0.505,-3.95],[0.507,-4.4],[0.51,-3.6],[0.513,-4.25],[0.516,-4.0],[0.52,-3.8],[0.523,-4.5],[0.526,-4.1],[0.53,-4.81],[0.533,-3.9],[0.536,-4.3],[0.54,-3.65],[0.544,-4.05],[0.548,-4.45],[0.552,-3.75],[0.556,-4.2],[0.56,-3.5],[0.564,-3.95],[0.568,-4.35],[0.572,-3.85],[0.576,-4.6],[0.58,-4.71],[0.584,-3.7],[0.588,-4.1],[0.592,-3.3],[0.596,-4.25],[0.518,-4.35],[0.542,-4.2],[0.566,-4.05],
[0.6,-3.85],[0.604,-4.3],[0.608,-3.55],[0.61,-5.21],[0.614,-4.05],[0.618,-4.75],[0.622,-2.95],[0.624,-4.85],[0.628,-3.7],[0.632,-4.2],[0.636,-3.45],[0.64,-3.95],[0.644,-4.4],[0.648,-3.6],[0.652,-3.2],[0.656,-4.1],[0.66,-3.8],[0.664,-4.45],[0.668,-3.5],[0.672,-3.9],[0.676,-4.25],[0.68,-3.65],[0.684,-3.05],[0.688,-4.0],[0.692,-3.75],[0.696,-4.35],[0.634,-4.0],[0.666,-3.85],[0.694,-3.55],
[0.702,-3.85],[0.706,-4.2],[0.71,-3.4],[0.714,-4.5],[0.718,-3.7],[0.722,-3.95],[0.726,-3.15],[0.73,-4.1],[0.734,-3.6],[0.738,-4.3],[0.742,-3.8],[0.746,-3.5],[0.75,-4.05],[0.754,-4.55],[0.758,-3.7],[0.762,-3.25],[0.766,-3.9],[0.77,-4.25],[0.774,-3.55],[0.778,-4.0],[0.782,-3.75],[0.786,-4.6],[0.79,-3.45],[0.794,-3.95],[0.798,-4.15],[0.728,-3.8],[0.76,-4.05],[0.788,-3.65],
[0.802,-3.6],[0.806,-4.1],[0.81,-3.85],[0.814,-3.1],[0.818,-4.35],[0.822,-3.7],[0.826,-4.0],[0.83,-3.45],[0.834,-4.2],[0.838,-3.9],[0.842,-3.25],[0.846,-4.5],[0.85,-3.75],[0.854,-4.05],[0.858,-3.55],[0.862,-4.3],[0.866,-3.95],[0.87,-3.65],[0.874,-4.15],[0.878,-3.05],[0.882,-3.85],[0.886,-4.4],[0.89,-3.6],[0.894,-4.0],[0.898,-3.8],[0.82,-3.95],[0.852,-3.9],[0.884,-4.1],
[0.902,-4.25],[0.906,-3.7],[0.91,-4.74],[0.914,-3.5],[0.918,-3.95],[0.922,-4.15],[0.926,-3.35],[0.93,-3.85],[0.934,-4.4],[0.938,-3.6],[0.942,-2.9],[0.946,-4.05],[0.95,-3.75],[0.954,-4.3],[0.958,-3.55],[0.962,-3.95],[0.966,-3.2],[0.97,-4.1],[0.974,-3.8],[0.978,-4.5],[0.982,-3.65],[0.986,-3.4],[0.99,-4.0],[0.994,-3.85],[0.998,-4.2],[0.924,-3.9],[0.956,-3.7],[0.988,-3.75],
[1.002,-3.6],[1.006,-4.05],[1.01,-3.3],[1.014,-3.9],[1.018,-4.35],[1.022,-3.7],[1.026,-3.05],[1.03,-4.1],[1.034,-3.55],[1.038,-4.25],[1.042,-3.8],[1.046,-4.64],[1.05,-3.45],[1.054,-3.95],[1.058,-2.95],[1.062,-4.2],[1.066,-3.75],[1.07,-4.0],[1.074,-3.5],[1.078,-4.4],[1.082,-3.65],[1.086,-3.85],[1.09,-3.2],[1.094,-4.15],[1.098,-3.9],[1.02,-4.0],[1.052,-3.75],[1.084,-4.05],
[1.102,-3.6],[1.106,-4.3],[1.11,-3.85],[1.114,-3.1],[1.118,-3.95],[1.122,-4.15],[1.126,-3.5],[1.13,-3.8],[1.134,-4.5],[1.138,-3.4],[1.142,-3.7],[1.146,-4.05],[1.15,-4.89],[1.154,-3.6],[1.158,-3.95],[1.162,-3.25],[1.166,-4.2],[1.17,-3.75],[1.174,-4.0],[1.178,-3.45],[1.182,-3.9],[1.186,-4.35],[1.19,-3.65],[1.194,-3.3],[1.198,-2.78],[1.124,-3.9],[1.156,-4.1],[1.188,-3.8],
[1.202,-3.85],[1.206,-4.0],[1.21,-4.97],[1.214,-3.55],[1.218,-4.2],[1.222,-3.7],[1.226,-3.15],[1.23,-4.1],[1.234,-3.9],[1.238,-3.45],[1.242,-4.3],[1.246,-3.8],[1.25,-4.05],[1.254,-3.6],[1.258,-4.45],[1.262,-3.95],[1.266,-3.3],[1.27,-3.75],[1.274,-4.15],[1.278,-3.5],[1.282,-3.9],[1.286,-4.55],[1.29,-3.65],[1.294,-4.0],[1.298,-3.1],[1.22,-3.95],[1.252,-3.75],[1.284,-3.8],
[1.302,-3.7],[1.306,-4.2],[1.31,-3.4],[1.314,-3.9],[1.318,-4.4],[1.322,-3.6],[1.326,-3.0],[1.33,-3.85],[1.334,-4.1],[1.338,-3.5],[1.342,-3.95],[1.346,-4.3],[1.35,-3.7],[1.354,-3.2],[1.358,-2.85],[1.362,-4.0],[1.366,-3.65],[1.37,-4.25],[1.374,-3.8],[1.378,-3.45],[1.382,-4.35],[1.386,-3.9],[1.39,-3.6],[1.394,-4.05],[1.398,-3.75],[1.324,-3.8],[1.356,-3.95],[1.388,-3.5],
[1.402,-3.55],[1.406,-4.1],[1.41,-3.85],[1.414,-3.25],[1.418,-4.35],[1.422,-3.7],[1.426,-4.0],[1.43,-3.45],[1.434,-3.9],[1.438,-4.4],[1.442,-3.6],[1.446,-3.8],[1.45,-3.35],[1.454,-4.2],[1.458,-3.7],[1.462,-3.95],[1.466,-2.9],[1.47,-3.55],[1.474,-4.05],[1.478,-3.75],[1.482,-3.5],[1.486,-3.9],[1.49,-3.65],[1.494,-4.15],[1.497,-3.4],[1.5,-3.8],[1.5,-3.45],[1.5,-4.0],[1.436,-3.6],[1.468,-3.85],[1.498,-3.6],
[0.502,-3.85],[0.504,-4.3],[0.506,-4.05],[0.509,-3.75],[0.511,-4.45],[0.514,-3.95],[0.517,-4.15],[0.521,-3.9],[0.524,-4.25],[0.528,-3.7],[0.531,-4.05],[0.535,-4.4],[0.538,-3.85],[0.546,-3.95],[0.55,-4.3],[0.554,-3.6],[0.558,-4.05],[0.562,-4.2],[0.57,-3.75],[0.578,-4.0],[0.586,-3.85],[0.594,-3.55],
[0.602,-4.1],[0.606,-3.7],[0.612,-3.95],[0.616,-4.2],[0.62,-3.6],[0.626,-3.85],[0.63,-4.05],[0.638,-3.75],[0.642,-4.15],[0.646,-3.5],[0.65,-3.9],[0.654,-4.25],[0.658,-3.65],[0.662,-4.0],[0.67,-3.75],[0.674,-4.1],[0.678,-3.55],[0.682,-3.9],[0.686,-4.3],[0.69,-3.8],[0.698,-3.95],[0.699,-3.65],
[0.704,-3.6],[0.708,-3.95],[0.712,-4.15],[0.716,-3.75],[0.72,-4.05],[0.724,-3.55],[0.732,-3.9],[0.736,-4.2],[0.74,-3.65],[0.744,-3.85],[0.748,-4.1],[0.752,-3.75],[0.756,-3.5],[0.764,-4.0],[0.768,-3.7],[0.772,-3.85],[0.776,-4.15],[0.78,-3.6],[0.784,-3.95],[0.792,-3.8],[0.796,-4.05],[0.799,-3.55],
[0.804,-3.85],[0.808,-4.2],[0.812,-3.65],[0.816,-3.95],[0.824,-3.75],[0.828,-4.15],[0.832,-3.55],[0.836,-3.85],[0.84,-4.05],[0.844,-3.7],[0.848,-3.9],[0.856,-3.6],[0.86,-4.15],[0.864,-3.8],[0.868,-4.25],[0.872,-3.5],[0.876,-3.85],[0.88,-4.0],[0.888,-3.7],[0.892,-4.2],[0.896,-3.95],[0.899,-3.6],
[0.904,-3.95],[0.908,-3.55],[0.912,-4.05],[0.916,-3.8],[0.92,-3.65],[0.928,-4.2],[0.932,-3.7],[0.936,-3.95],[0.94,-4.1],[0.944,-3.5],[0.948,-3.85],[0.952,-4.15],[0.96,-3.8],[0.964,-4.05],[0.968,-3.65],[0.972,-3.9],[0.976,-3.7],[0.98,-4.15],[0.984,-3.85],[0.992,-3.55],[0.996,-4.05],[0.999,-3.75],
[1.004,-3.85],[1.008,-3.65],[1.012,-4.15],[1.016,-3.75],[1.024,-3.95],[1.028,-3.55],[1.032,-3.85],[1.036,-4.05],[1.04,-3.65],[1.044,-3.95],[1.048,-4.2],[1.056,-3.6],[1.06,-3.9],[1.064,-4.1],[1.068,-3.55],[1.072,-3.8],[1.076,-4.0],[1.08,-3.7],[1.088,-3.95],[1.092,-3.6],[1.096,-4.25],[1.099,-3.75],
[1.104,-3.95],[1.108,-3.7],[1.112,-4.1],[1.116,-3.55],[1.12,-3.8],[1.128,-4.05],[1.132,-3.65],[1.136,-3.9],[1.14,-4.2],[1.144,-3.5],[1.148,-3.85],[1.152,-3.7],[1.16,-4.0],[1.164,-3.6],[1.168,-3.85],[1.172,-4.15],[1.176,-3.7],[1.18,-3.95],[1.184,-3.55],[1.192,-4.05],[1.196,-3.8],[1.199,-3.6],
[1.204,-3.65],[1.208,-3.95],[1.212,-3.75],[1.216,-4.1],[1.224,-3.6],[1.228,-3.85],[1.232,-4.05],[1.236,-3.7],[1.24,-3.95],[1.244,-3.55],[1.248,-4.2],[1.256,-3.85],[1.26,-3.65],[1.264,-4.0],[1.268,-3.8],[1.272,-3.55],[1.276,-3.95],[1.28,-4.15],[1.288,-3.6],[1.292,-3.85],[1.296,-4.05],[1.299,-3.7],
[1.304,-3.95],[1.308,-3.55],[1.312,-3.8],[1.316,-4.05],[1.32,-3.65],[1.328,-3.9],[1.332,-3.5],[1.336,-4.15],[1.34,-3.75],[1.344,-3.6],[1.348,-3.95],[1.352,-4.1],[1.36,-3.55],[1.364,-3.85],[1.368,-3.65],[1.372,-4.05],[1.376,-3.5],[1.38,-3.8],[1.384,-4.0],[1.392,-3.7],[1.396,-3.9],[1.399,-3.45],
[1.404,-3.8],[1.408,-3.6],[1.412,-4.05],[1.416,-3.7],[1.42,-3.5],[1.428,-3.85],[1.432,-4.1],[1.436,-3.65],[1.44,-3.9],[1.444,-3.55],[1.448,-4.0],[1.452,-3.75],[1.456,-3.45],[1.46,-3.85],[1.464,-3.6],[1.472,-3.95],[1.476,-3.5],[1.48,-3.75],[1.484,-3.4],[1.488,-3.85],[1.496,-3.6],[1.499,-3.95]
];

//------------------------ ETIQUETAS DE EJE X ------------------------
const t1Title = [{ t: 'T', it: true }, { sub: '1' }, { t: ' (ms)' }];
const t2Title = [{ t: 'T', it: true }, { sub: '2' }, { t: ' (ms)' }];
const b1Title = [{ t: 'B', it: true }, { sub: '1', sup: '+' }, { t: ' (a.u.)' }];

//------------------------ ESTILO ------------------------
const azul = '#0072BD';
const gris = '#262626';
const serif = "'Liberation Serif', 'Times New Roman', serif";
const sans = "'Liberation Sans', Arial, sans-serif";

const logMinors = (min, max) => {
    let out = [];
    for (let e = Math.floor(Math.log10(min)); e <= Math.ceil(Math.log10(max)); e++) {
        for (let m = 1; m <= 9; m++) {
            const v = m * Math.pow(10, e);
            if (v > min * 1.0001 && v < max * 0.9999) out.push(v);
        }
    }
    return out;
};

// lineas menores del eje y (posiciones log dentro de cada decada)
const yMinors = () => {
    let out = [];
    for (let d = yTicks[0]; d < yTicks[yTicks.length - 1]; d++) {
        for (let m = 2; m <= 9; m++) out.push(d + Math.log10(m));
    }
    return out;
};

const linea = (ctx, x1, y1, x2, y2) => {
    ctx.beginPath();
    ctx.moveTo(x1, y1);
    ctx.lineTo(x2, y2);
    ctx.stroke();
};

const drawXTitle = (ctx, parts, cx, base) => {
    const big = '24px ' + serif, bigIt = 'italic 24px ' + serif, small = '17px ' + serif;
    const widthOf = (p) => {
        if (p.t) {
            ctx.font = p.it ? bigIt : big;
            return ctx.measureText(p.t).width;
        }
        ctx.font = small;
        return Math.max(ctx.measureText(p.sub || '').width, ctx.measureText(p.sup || '').width) + 1;
    };
    let total = 0;
    parts.forEach(p => { total += widthOf(p); });
    let x = cx - total / 2;
    ctx.fillStyle = gris;
    ctx.textAlign = 'left';
    ctx.textBaseline = 'alphabetic';
    parts.forEach(p => {
        const w = widthOf(p);
        if (p.t) {
            ctx.fillText(p.t, x, base);
        } else {
            if (p.sub) ctx.fillText(p.sub, x + 1, base + 5);
            if (p.sup) ctx.fillText(p.sup, x + 1, base - 10);
        }
        x += w;
    });
};

// rejilla, caja y marcas estilo matlab
const matlabAxes = {
    id: 'matlabAxes',
    beforeDatasetsDraw(chart, args, o) {
        const ctx = chart.ctx, a = chart.chartArea;
        const sx = chart.scales.x, sy = chart.scales.y;
        ctx.save();
        ctx.lineWidth = 1;
        if (o.logX) {
            ctx.strokeStyle = '#dedede';
            logMinors(sx.min, sx.max).forEach(v => {
                const px = Math.round(sx.getPixelForValue(v)) + 0.5;
                linea(ctx, px, a.top, px, a.bottom);
            });
        }
        ctx.strokeStyle = '#b4b4b4';
        ctx.setLineDash([1.5, 2]);
        yMinors().forEach(v => {
            const py = Math.round(sy.getPixelForValue(v)) + 0.5;
            linea(ctx, a.left, py, a.right, py);
        });
        ctx.setLineDash([]);
        ctx.strokeStyle = '#d6d6d6';
        ctx.lineWidth = 1.5;
        yTicks.slice(1, -1).forEach(v => {
            const py = sy.getPixelForValue(v);
            linea(ctx, a.left, py, a.right, py);
        });
        // marcas hacia dentro
        ctx.strokeStyle = gris;
        ctx.lineWidth = 1;
        yTicks.forEach(v => {
            const py = sy.getPixelForValue(v);
            linea(ctx, a.left, py, a.left + 5, py);
            linea(ctx, a.right, py, a.right - 5, py);
        });
        yMinors().forEach(v => {
            const py = Math.round(sy.getPixelForValue(v)) + 0.5;
            linea(ctx, a.left, py, a.left + 3, py);
            linea(ctx, a.right, py, a.right - 3, py);
        });
        if (o.logX) {
            logMinors(sx.min, sx.max).forEach(v => {
                const px = Math.round(sx.getPixelForValue(v)) + 0.5;
                linea(ctx, px, a.bottom, px, a.bottom - 3);
                linea(ctx, px, a.top, px, a.top + 3);
            });
        }
        ctx.lineWidth = 1.6;
        ctx.strokeRect(a.left, a.top, a.right - a.left, a.bottom - a.top);
        ctx.restore();
    },
    afterDraw(chart, args, o) {
        const a = chart.chartArea;
        chart.ctx.save();
        drawXTitle(chart.ctx, o.xTitle, (a.left + a.right) / 2, a.bottom + 62);
        chart.ctx.restore();
    }
};

//------------------------ GENERACION DE GRAFICAS ------------------------
const crearPanel = (id, puntos, ejeX, titulo) => {
    const xMin = ejeX.ticks[0], xMax = ejeX.ticks[ejeX.ticks.length - 1];
    return new Chart(document.getElementById(id), {
        data: {
            datasets: [{
                type: 'line',
                data: [[xMin, errThreshold], [xMax, errThreshold]],
                borderColor: '#000',
                borderWidth: 4,
                borderDash: [16, 14],
                pointRadius: 0,
                order: 0
            }, {
                type: 'scatter',
                data: puntos,
                backgroundColor: azul,
                borderWidth: 0,
                pointRadius: 2.5,
                clip: 4,
                order: 1
            }]
        },
        options: {
            responsive: false,
            animation: false,
            events: [],
            layout: { padding: { top: titulo ? 0 : 40, right: 30, left: 0, bottom: 0 } },
            plugins: {
                legend: { display: false },
                tooltip: { enabled: false },
                title: {
                    display: !!titulo,
                    text: titulo || '',
                    fullSize: false,
                    color: '#000',
                    font: { family: sans, size: 23, weight: 'bold' },
                    padding: { top: 6, bottom: 6.4 }
                },
                matlabAxes: { logX: ejeX.log, xTitle: ejeX.title }
            },
            scales: {
                x: {
                    type: ejeX.log ? 'logarithmic' : 'linear',
                    min: xMin,
                    max: xMax,
                    grid: { display: false },
                    border: { display: false },
                    afterBuildTicks: s => { s.ticks = ejeX.ticks.map(v => ({ value: v })); },
                    afterFit: s => { s.height = 73.7; },
                    ticks: {
                        autoSkip: false,
                        maxRotation: 0,
                        padding: 5,
                        color: gris,
                        font: { family: sans, size: 21 },
                        callback: (v, i) => ejeX.labels[i]
                    }
                },
                y: {
                    type: 'linear',
                    min: yTicks[0],
                    max: yTicks[yTicks.length - 1],
                    grid: { display: false },
                    border: { display: false },
                    afterBuildTicks: s => { s.ticks = yTicks.map(v => ({ value: v })); },
                    afterFit: s => { s.width = 80; },
                    ticks: {
                        autoSkip: false,
                        padding: 11,
                        color: gris,
                        font: { family: sans, size: 21 },
                        callback: (v, i) => yTickLabels[i]
                    },
                    title: {
                        display: true,
                        text: 'interpolation error (log10)',
                        color: gris,
                        font: { family: serif, size: 26 },
                        padding: { top: 8, bottom: 0 }
                    }
                }
            }
        },
        plugins: [matlabAxes]
    });
};

const ejeT1 = { log: true, ticks: t1Ticks, labels: t1TickLabels, title: t1Title };
const ejeT2 = { log: true, ticks: t2Ticks, labels: t2TickLabels, title: t2Title };
const ejeB1 = { log: false, ticks: b1Ticks, labels: b1TickLabels, title: b1Title };

crearPanel('c1', t1Matching, ejeT1, columnTitles[0]);
crearPanel('c2', t1Fitting, ejeT1, columnTitles[1]);
crearPanel('c3', t2Matching, ejeT2, null);
crearPanel('c4', t2Fitting, ejeT2, null);
crearPanel('c5', b1Matching, ejeB1, null);
crearPanel('c6', b1Fitting, ejeB1, null);
</script>
</body>
</html>
